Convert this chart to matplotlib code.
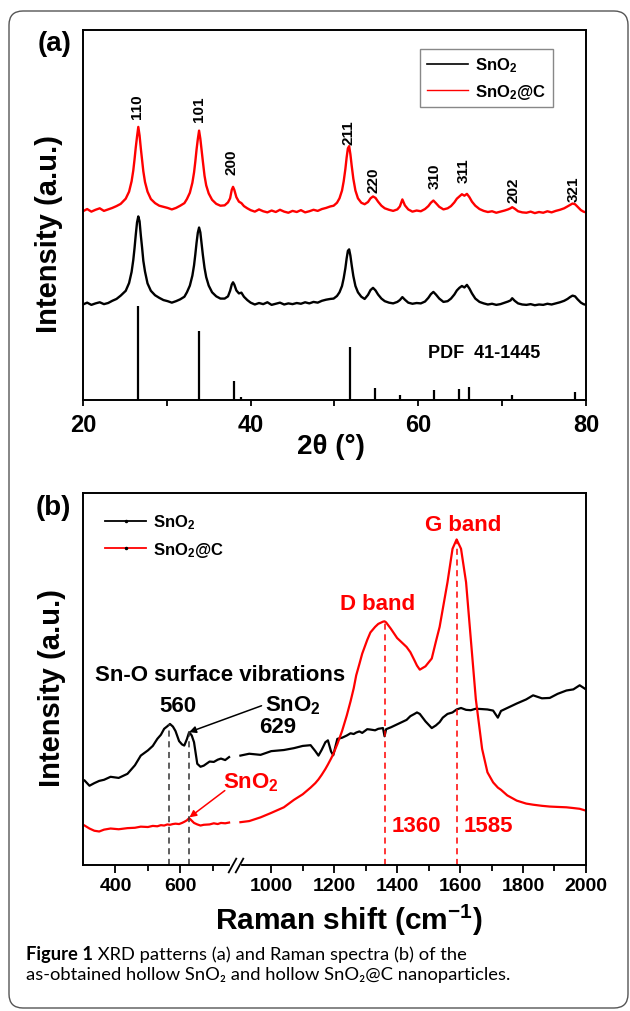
import numpy as np
import matplotlib
matplotlib.use("Agg")
import matplotlib.pyplot as plt
from matplotlib.lines import Line2D
from matplotlib.patches import FancyBboxPatch
from matplotlib.transforms import IdentityTransform, blended_transform_factory

plt.rcParams["font.family"] = ["Liberation Sans", "DejaVu Sans"]
plt.rcParams["font.weight"] = "bold"
plt.rcParams["mathtext.fontset"] = "custom"
plt.rcParams["mathtext.rm"] = "Liberation Sans:bold"
plt.rcParams["mathtext.it"] = "Liberation Sans:bold"
plt.rcParams["mathtext.bf"] = "Liberation Sans:bold"
plt.rcParams["mathtext.default"] = "rm"

# ---------------- (a) XRD data ----------------
two_theta = [
    20.0, 20.5, 21.0, 21.5, 22.0, 22.5, 23.0, 23.5, 24.0, 24.5,
    25.1, 25.5, 25.8, 26.0, 26.15, 26.3, 26.45, 26.6, 26.75, 26.9, 27.05, 27.2, 27.4, 27.7, 28.1, 28.6,
    29.1, 29.6, 30.1, 30.6, 31.1, 31.6, 32.1,
    32.4, 32.75, 33.05, 33.25, 33.4, 33.55, 33.7, 33.85, 34.0, 34.15, 34.3, 34.5, 34.7, 35.0, 35.4, 35.9,
    36.4, 36.9, 37.3,
    37.55, 37.75, 37.9, 38.05, 38.3, 38.6, 38.9, 39.2, 39.6,
    40.0, 40.5, 41.0, 41.5, 42.0, 42.5, 43.0, 43.5, 44.0, 44.5,
    45.0, 45.5, 46.0, 46.5, 47.0, 47.5, 48.0, 48.5, 49.0, 49.5,
    49.9, 50.3, 50.6, 50.9, 51.1, 51.3, 51.45, 51.6, 51.75, 51.9, 52.05, 52.25, 52.5, 52.8, 53.2, 53.6,
    54.0, 54.3, 54.6, 54.9, 55.2, 55.6, 56.0, 56.5, 57.0, 57.5,
    57.8, 58.1, 58.4, 58.8, 59.3, 59.8, 60.3, 60.8,
    61.2, 61.5, 61.8, 62.1, 62.5, 63.0, 63.5,
    63.9, 64.3, 64.6, 64.9, 65.2, 65.5, 65.8, 66.1, 66.4, 66.8, 67.3, 67.8,
    68.3, 68.8, 69.3, 69.8, 70.3, 70.7,
    71.0, 71.2, 71.5, 71.9, 72.4,
    72.9, 73.4, 73.9, 74.4, 74.9, 75.4, 75.9, 76.4, 76.9, 77.4, 77.8,
    78.1, 78.4, 78.7, 79.0, 79.4, 79.7, 80.0,
]
xrd_sno2c = [
    51.0, 51.6, 50.9, 51.4, 51.8, 51.1, 51.5, 51.9, 52.4, 53.0,
    54.4, 56.3, 59.1, 62.0, 65.0, 68.3, 71.2, 73.8, 71.5, 68.0, 65.0, 61.8, 58.9, 56.3, 54.3, 53.2,
    52.5, 52.2, 51.9, 51.5, 51.9, 52.5, 53.2,
    54.3, 56.0, 58.7, 61.5, 64.4, 67.7, 70.5, 72.8, 70.6, 67.5, 64.5, 60.6, 58.0, 55.8, 54.1, 53.0,
    52.5, 52.6, 53.4,
    54.5, 56.8, 57.6, 56.8, 54.8, 53.6, 53.2, 52.4, 51.8,
    51.3, 50.9, 51.5, 51.0, 50.7, 51.2, 50.8, 51.4, 50.9, 50.6,
    51.1, 50.8, 51.3, 50.7, 51.0, 51.4, 51.1, 51.6, 51.9, 52.3,
    52.5, 53.3, 54.5, 56.6, 59.1, 62.4, 65.5, 68.0, 68.6, 66.4, 63.4, 59.8, 56.6, 54.5, 53.3, 52.9,
    53.5, 54.5, 55.0, 54.6, 53.6, 52.5, 51.8, 51.4, 51.1, 51.5,
    52.3, 54.2, 52.6, 51.5, 50.9, 51.2, 51.0, 51.6,
    52.4, 53.3, 53.9, 53.2, 52.2, 51.5, 51.8,
    52.4, 53.4, 54.4, 55.0, 55.6, 55.2, 55.7, 54.8, 53.6, 52.5, 51.6, 51.1,
    50.8, 51.0, 50.6, 50.9, 51.2, 51.5,
    51.8, 52.1, 51.7, 51.0, 50.7,
    50.6, 50.9, 50.5, 50.8, 50.6, 51.0, 50.7, 51.1, 51.4, 51.8, 52.3,
    52.7, 53.1, 52.9, 52.2, 51.3, 50.9, 50.7,
]
xrd_sno2 = [
    25.8, 26.3, 25.7, 26.1, 26.4, 25.9, 26.2, 26.8, 27.3, 28.2,
    29.5, 31.6, 34.6, 37.8, 41.0, 44.7, 48.0, 49.6, 48.3, 44.5, 41.2, 37.6, 34.7, 31.5, 29.5, 28.3,
    27.6, 27.0, 26.7, 26.3, 26.7, 27.2, 27.9,
    29.1, 30.9, 33.6, 36.4, 39.3, 42.5, 45.2, 46.6, 45.3, 42.3, 39.2, 35.7, 33.2, 30.9, 29.1, 28.0,
    27.4, 27.4, 28.0,
    29.5, 31.2, 31.8, 31.2, 29.6, 28.8, 29.0, 27.9, 27.0,
    26.3, 25.8, 26.2, 25.9, 26.4, 25.7, 26.0, 26.3, 25.8, 26.1,
    25.9, 26.2, 26.0, 26.4, 26.1, 26.5, 26.3, 26.8, 27.1, 27.3,
    27.4, 28.1, 29.1, 30.8, 32.9, 35.6, 38.2, 40.3, 40.7, 39.0, 36.5, 33.5, 30.8, 29.1, 27.9, 27.3,
    28.4, 29.7, 30.3, 29.6, 28.5, 27.4, 26.7, 26.3, 26.1, 26.5,
    27.0, 27.8, 27.1, 26.3, 26.0, 26.2, 26.1, 26.6,
    27.6, 28.6, 29.2, 28.5, 27.4, 26.5, 26.7,
    27.4, 28.5, 29.6, 30.3, 30.8, 30.4, 31.1, 30.1, 28.8, 27.4, 26.5, 26.1,
    25.8, 26.0, 25.7, 25.9, 26.3, 26.6,
    26.9, 27.5, 26.8, 26.1, 25.8,
    25.7, 25.9, 25.6, 25.8, 25.7, 26.0, 25.8, 26.1, 26.4, 26.8, 27.3,
    27.8, 28.2, 28.0, 27.2, 26.3, 25.9, 25.7,
]

# reference pattern PDF 41-1445
pdf_pos = [26.6, 33.9, 38.0, 38.9, 51.8, 54.8, 57.8, 61.9, 64.8, 66.0, 71.2, 78.7]
pdf_height = [25.3, 18.6, 5.1, 0.8, 14.3, 3.2, 1.35, 2.7, 3.0, 3.5, 1.35, 2.2]

# Miller indices and where their labels start
hkl_labels = ["110", "101", "200", "211", "220", "310", "311", "202", "321"]
hkl_pos = [26.4, 33.9, 37.7, 51.7, 54.6, 61.9, 65.4, 71.3, 78.5]
hkl_y = [76.2, 75.5, 61.1, 69.2, 56.1, 57.2, 58.8, 53.6, 53.9]

# ---------------- (b) Raman data ----------------
raman_low = [305, 320, 335, 350, 365, 385, 410, 437, 460, 478, 500, 515, 529, 540, 550,
             560, 568, 577, 585, 596, 605, 612, 620, 627, 635, 642, 652, 662, 672, 690,
             703, 715, 725, 738, 750]
raman_sno2_low = [22.7, 21.3, 22.0, 22.6, 22.9, 23.7, 23.4, 24.5, 26.8, 29.4, 30.8, 32.0, 33.9, 35.0, 36.6,
                  37.3, 37.9, 37.2, 36.0, 33.3, 32.4, 32.1, 33.8, 35.7, 34.8, 33.0, 27.2, 26.4, 26.7, 27.8,
                  27.7, 28.3, 28.6, 28.2, 29.0]
raman_sno2c_low = [10.6, 9.8, 9.2, 9.0, 9.5, 9.8, 9.6, 9.9, 10.0, 10.3, 10.2, 10.5, 10.4, 10.7, 10.6,
                   10.9, 10.8, 11.0, 11.1, 11.0, 11.3, 11.6, 12.0, 12.6, 11.9, 11.3, 10.9, 10.6, 10.8, 10.9,
                   11.2, 11.0, 11.3, 11.2, 11.4]

raman_high = [902, 930, 966, 1000, 1040, 1072, 1100, 1125, 1140, 1150,
              1160, 1172, 1180, 1190, 1197, 1210, 1225, 1240, 1252, 1262,
              1270, 1280, 1289, 1305, 1315, 1330, 1340, 1355, 1360, 1365,
              1380, 1400, 1420, 1430, 1442, 1455, 1463, 1472, 1490, 1510,
              1523, 1535, 1545, 1560, 1576, 1589, 1603, 1619, 1634, 1650,
              1670, 1687, 1705, 1720, 1730, 1750, 1780, 1810, 1832, 1860,
              1885, 1910, 1938, 1960, 1980, 2000]
raman_sno2_high = [29.4, 29.9, 29.6, 30.6, 30.9, 31.4, 32.0, 32.2, 30.6, 29.4,
                   30.9, 33.0, 33.5, 30.5, 29.5, 33.9, 34.2, 34.8, 35.4, 35.2,
                   35.6, 35.9, 35.5, 36.5, 36.4, 36.2, 36.6, 36.8, 34.6, 36.5,
                   37.0, 37.8, 38.6, 39.0, 40.0, 40.6, 41.0, 40.6, 38.6, 36.8,
                   37.5, 38.4, 39.6, 40.6, 41.0, 41.8, 42.2, 41.7, 41.6, 42.0,
                   41.9, 41.8, 41.5, 39.6, 41.4, 42.2, 43.4, 44.5, 45.6, 44.8,
                   44.9, 46.0, 46.9, 47.2, 48.3, 47.2]
raman_sno2c_high = [11.5, 11.8, 12.8, 14.0, 15.5, 17.5, 19.0, 20.8, 22.0, 23.0,
                    24.2, 25.8, 27.0, 28.6, 29.8, 32.5, 36.0, 40.2, 44.0, 47.5,
                    51.0, 54.0, 56.8, 60.5, 62.5, 64.0, 64.8, 65.4, 65.5, 65.2,
                    63.5, 61.0, 59.4, 58.6, 57.2, 55.0, 53.6, 52.5, 53.4, 55.5,
                    60.0, 64.0, 68.8, 76.0, 85.0, 87.5, 85.0, 76.0, 60.8, 44.6,
                    31.2, 24.9, 22.2, 20.8, 20.2, 18.7, 17.3, 16.5, 16.2, 15.9,
                    15.7, 15.6, 15.5, 15.3, 15.1, 14.6]

sno2_marks = [566, 626]
sno2_marks_top = [37.9, 35.7]
carbon_marks = [1360, 1590]
carbon_marks_top = [65.4, 87.5]

raman_ticks = [400, 600, 1000, 1200, 1400, 1600, 1800, 2000]
raman_minor = [500, 700, 1100, 1300, 1500, 1700, 1900]
break_at = [758, 896]

# broken x axis for Raman: two linear pieces with a gap
GAP_LO, GAP_HI = 770, 887
S_LO, S_HI, S_GAP = 0.325, 0.315, 0.001


def fwd(v):
    v = np.asarray(v, dtype=float)
    f1 = S_LO * (GAP_LO - 300)
    f2 = f1 + S_GAP * (GAP_HI - GAP_LO)
    return np.where(v <= GAP_LO, S_LO * (v - 300),
                    np.where(v <= GAP_HI, f1 + S_GAP * (v - GAP_LO), f2 + S_HI * (v - GAP_HI)))


def inv(f):
    f = np.asarray(f, dtype=float)
    f1 = S_LO * (GAP_LO - 300)
    f2 = f1 + S_GAP * (GAP_HI - GAP_LO)
    return np.where(f <= f1, f / S_LO + 300,
                    np.where(f <= f2, GAP_LO + (f - f1) / S_GAP, GAP_HI + (f - f2) / S_HI))


RED = "#ff0000"

fig = plt.figure(figsize=(6.3, 10.12), dpi=100)

# rounded frame around the whole figure (pixel coordinates)
border = FancyBboxPatch((9, 3), 619, 997, boxstyle="round,pad=0,rounding_size=14",
                        transform=IdentityTransform(), fill=False, ec="#555555", lw=1.0)
fig.add_artist(border)

# ---------------- panel (a) ----------------
ax_a = fig.add_axes([0.1317, 0.6038, 0.7984, 0.3656])
ax_a.vlines(pdf_pos, 0, pdf_height, color="black", lw=1.6)
ax_a.plot(two_theta, xrd_sno2, color="black", lw=1.7)
ax_a.plot(two_theta, xrd_sno2c, color=RED, lw=1.7)
for lab, x, y in zip(hkl_labels, hkl_pos, hkl_y):
    ax_a.text(x, y, lab, rotation=90, ha="center", va="bottom", fontsize=11)
ax_a.text(0.686, 0.129, "PDF  41-1445", transform=ax_a.transAxes, fontsize=13,
          ha="left", va="center")

ax_a.set_xlim(20, 80)
ax_a.set_ylim(0, 100)
ax_a.set_xticks([20, 40, 60, 80])
ax_a.set_xticks([30, 50, 70], minor=True)
ax_a.set_yticks([])
ax_a.tick_params(axis="x", which="major", direction="out", length=4.5, width=1.3,
                 labelsize=17, pad=5)
ax_a.tick_params(axis="x", which="minor", direction="out", length=4, width=1.3)
for s in ax_a.spines.values():
    s.set_linewidth(1.4)

leg_a = ax_a.legend(
    [Line2D([], [], color="black", lw=1.2), Line2D([], [], color=RED, lw=1.0)],
    ["SnO$_2$", "SnO$_2$@C"], loc="upper right", bbox_to_anchor=(0.934, 0.949),
    borderaxespad=0, fontsize=12, handlelength=2.5, handletextpad=0.4,
    labelspacing=0.45, borderpad=0.4, fancybox=False, framealpha=1)
leg_a.get_frame().set_edgecolor("#888888")
leg_a.get_frame().set_linewidth(1.0)

fig.text(0.0873, 0.9565, "(a)", fontsize=20, ha="center", va="center")
fig.text(0.0778, 0.7688, "Intensity (a.u.)", rotation=90, fontsize=21,
         ha="center", va="center")
fig.text(0.5254, 0.5583, "2\u03b8 (\u00b0)", fontsize=20, ha="center", va="center")

# ---------------- panel (b) ----------------
ax_b = fig.add_axes([0.1317, 0.1443, 0.7984, 0.3676])
ax_b.set_xscale("function", functions=(fwd, inv))
ax_b.plot(raman_low, raman_sno2_low, color="black", lw=1.6)
ax_b.plot(raman_high, raman_sno2_high, color="black", lw=1.6)
ax_b.plot(raman_low, raman_sno2c_low, color=RED, lw=1.6)
ax_b.plot(raman_high, raman_sno2c_high, color=RED, lw=1.6)
ax_b.vlines(sno2_marks, 0, sno2_marks_top, colors="#333333", linestyles=(0, (4, 3)), lw=1.1)
ax_b.vlines(carbon_marks, 0, carbon_marks_top, colors=RED, linestyles=(0, (4, 3)), lw=1.1)

ax_b.set_xlim(300, 2000)
ax_b.set_ylim(0, 100)
ax_b.set_xticks(raman_ticks)
ax_b.set_xticklabels([str(t) for t in raman_ticks])
ax_b.set_xticks(raman_minor, minor=True)
ax_b.set_yticks([])
ax_b.tick_params(axis="x", which="major", direction="out", length=6, width=1.3,
                 labelsize=14, pad=3)
ax_b.tick_params(axis="x", which="minor", direction="out", length=4.3, width=1.3)
for s in ax_b.spines.values():
    s.set_linewidth(1.4)

# axis break marks
trans = blended_transform_factory(ax_b.transData, ax_b.transAxes)
ax_b.plot(break_at, [0, 0], transform=trans, color="white", lw=3, clip_on=False, zorder=5)
ax_b.plot(break_at, [0, 0], transform=trans, ls="none", marker=[(-0.55, -1), (0.55, 1)],
          markersize=11, mew=1.3, color="black", clip_on=False, zorder=6)

ax_b.legend(
    [Line2D([], [], color="black", lw=1.3, marker=".", ms=3),
     Line2D([], [], color=RED, lw=1.3, marker=".", ms=3, mfc="black", mec="black")],
    ["SnO$_2$", "SnO$_2$@C"], loc="upper left", bbox_to_anchor=(0.03, 0.965),
    borderaxespad=0, frameon=False, fontsize=12, handlelength=2.5, handletextpad=0.4,
    labelspacing=0.5, numpoints=1)

tb = ax_b.transAxes
ax_b.text(0.272, 0.498, "Sn-O surface vibrations", transform=tb, fontsize=16,
          ha="center", va="baseline")
ax_b.text(0.189, 0.415, "560", transform=tb, fontsize=16, ha="center", va="baseline")
ax_b.text(0.362, 0.415, "SnO$_2$", transform=tb, fontsize=16, ha="left", va="baseline")
ax_b.text(0.387, 0.357, "629", transform=tb, fontsize=16, ha="center", va="baseline")
ax_b.text(0.278, 0.209, "SnO$_2$", transform=tb, fontsize=16, ha="left", va="baseline",
          color=RED)
ax_b.text(0.614, 0.092, "1360", transform=tb, fontsize=16, ha="left", va="baseline",
          color=RED)
ax_b.text(0.757, 0.092, "1585", transform=tb, fontsize=16, ha="left", va="baseline",
          color=RED)
ax_b.text(0.585, 0.688, "D band", transform=tb, fontsize=16, ha="center", va="baseline",
          color=RED)
ax_b.text(0.756, 0.901, "G band", transform=tb, fontsize=16, ha="center", va="baseline",
          color=RED)

ax_b.annotate("", xy=(627, 35.7), xycoords="data", xytext=(0.355, 0.428),
              textcoords="axes fraction",
              arrowprops=dict(arrowstyle="-|>", color="black", lw=1.1, mutation_scale=10,
                              shrinkA=0, shrinkB=0))
ax_b.annotate("", xy=(628, 12.8), xycoords="data", xytext=(0.282, 0.20),
              textcoords="axes fraction",
              arrowprops=dict(arrowstyle="-|>", color=RED, lw=1.1, mutation_scale=10,
                              shrinkA=0, shrinkB=0))

fig.text(0.084, 0.4985, "(b)", fontsize=20, ha="center", va="center")
fig.text(0.0825, 0.3202, "Intensity (a.u.)", rotation=90, fontsize=21,
         ha="center", va="center")
fig.text(0.553, 0.0904, "Raman shift (cm$^{-1}$)", fontsize=21.5, ha="center", va="center")

# ---------------- caption ----------------
cap_font = ["Lato", "DejaVu Sans"]
t1 = fig.text(0.0413, 1 - 962.7 / 1012, "Figure 1", fontsize=13.2, fontweight="bold",
              family=cap_font, va="bottom", ha="left")
ax_b.annotate(" XRD patterns (a) and Raman spectra (b) of the", xy=(1, 0), xycoords=t1,
              va="bottom", ha="left", fontsize=13.2, fontweight="normal", family=cap_font,
              annotation_clip=False)
fig.text(0.0413, 1 - 983.3 / 1012,
         "as-obtained hollow SnO\u2082 and hollow SnO\u2082@C nanoparticles.",
         fontsize=13.2, fontweight="normal", family=cap_font, va="bottom", ha="left")

fig.savefig("out.png", dpi=100)
